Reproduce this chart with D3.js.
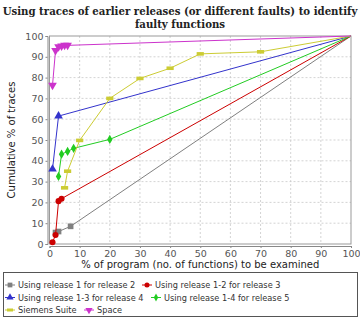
<!DOCTYPE html>
<html>
<head>
<meta charset="utf-8">
<script src="https://cdn.jsdelivr.net/npm/d3@7"></script>
<style>
  body { margin: 0; background: #fff; }
  svg { display: block; font-family: "DejaVu Sans", sans-serif; }
</style>
</head>
<body>
<div id="chart-area"></div>
<script>
// data: [% of program, cumulative % of traces]
const seriesNames = [
	'Using release 1 for release 2',
	'Using release 1-2 for release 3',
	'Using release 1-3 for release 4',
	'Using release 1-4 for release 5',
	'Siemens Suite',
	'Space'
]
const rel12 = [[2, 5.5], [3, 6], [7, 8.5], [100, 100]]
const rel123 = [[1, 0.8], [2, 4.3], [3, 20.6], [4, 21.8], [100, 100]]
const rel1234 = [[1, 36], [3, 61.5], [100, 100]]
const rel12345 = [[3, 32.5], [4, 43.2], [6, 44.5], [8, 46], [20, 50.3], [100, 100]]
const siemens = [[5, 27], [6, 35], [10, 49.8], [20, 70], [30, 79.6], [40, 84.5], [50, 91.4], [70, 92.4], [100, 100]]
const space = [[1, 76.3], [2, 93], [3, 94.8], [4, 95.2], [5, 95.5], [6, 95.5], [100, 100]]
const xTicks = [0, 10, 20, 30, 40, 50, 60, 70, 80, 90, 100]
const yTicks = [0, 10, 20, 30, 40, 50, 60, 70, 80, 90, 100]

const allSeries = [rel12, rel123, rel1234, rel12345, siemens, space]
const colors = ['#808080', '#cc0000', '#3333cc', '#22cc22', '#cccc33', '#cc33cc']
const symbols = [d3.symbolSquare, d3.symbolCircle, d3.symbolTriangle, d3.symbolDiamond, 'rect', 'down']

const W = 360, H = 327
const PLOT = { LEFT: 49.5, RIGHT: 351, TOP: 36, BOTTOM: 244 }

const svg = d3.select('#chart-area').append('svg')
	.attr('width', W)
	.attr('height', H)

// title
const title = svg.append('g')
	.attr('font-family', '"DejaVu Serif Condensed", "DejaVu Serif", serif')
	.attr('font-stretch', 'condensed')
	.attr('font-weight', 'bold')
	.attr('font-size', '11.3px')
	.attr('fill', '#222')
	.attr('text-anchor', 'middle')
title.append('text')
	.attr('x', 180).attr('y', 15)
	.text('Using traces of earlier releases (or different faults) to identify')
title.append('text')
	.attr('x', 180).attr('y', 28)
	.text('faulty functions')

const x = d3.scaleLinear()
	.domain([0, 100])
	.range([PLOT.LEFT, PLOT.RIGHT])

const y = d3.scaleLinear()
	.domain([0, 100])
	.range([PLOT.BOTTOM, PLOT.TOP])

// grid
const grid = svg.append('g')
	.attr('stroke', '#c8c8c8')
	.attr('stroke-width', 0.8)
	.attr('stroke-dasharray', '2,2')
grid.selectAll('.vx').data(xTicks.slice(1, -1)).enter().append('line')
	.attr('x1', d => x(d)).attr('x2', d => x(d))
	.attr('y1', PLOT.TOP).attr('y2', PLOT.BOTTOM)
grid.selectAll('.hy').data(yTicks.slice(1, -1)).enter().append('line')
	.attr('y1', d => y(d)).attr('y2', d => y(d))
	.attr('x1', PLOT.LEFT).attr('x2', PLOT.RIGHT)

// plot outline
svg.append('rect')
	.attr('x', PLOT.LEFT).attr('y', PLOT.TOP)
	.attr('width', PLOT.RIGHT - PLOT.LEFT)
	.attr('height', PLOT.BOTTOM - PLOT.TOP)
	.attr('fill', 'none')
	.attr('stroke', '#999')
	.attr('stroke-width', 1)

// axes
const xAxisGroup = svg.append('g')
	.attr('transform', `translate(0, ${PLOT.BOTTOM + 2})`)
	.call(d3.axisBottom(x).tickValues(xTicks).tickSize(2).tickPadding(2))
const yAxisGroup = svg.append('g')
	.attr('transform', `translate(${PLOT.LEFT - 2}, 0)`)
	.call(d3.axisLeft(y).tickValues(yTicks).tickSize(2).tickPadding(2))
svg.selectAll('.domain').attr('stroke', '#888')
svg.selectAll('.tick line').attr('stroke', '#888')
svg.selectAll('.tick text')
	.attr('fill', '#555')
	.attr('font-size', '9.5px')
	.attr('font-family', '"DejaVu Sans", sans-serif')

// axis labels
svg.append('text')
	.attr('x', (PLOT.LEFT + PLOT.RIGHT) / 2)
	.attr('y', 268)
	.attr('text-anchor', 'middle')
	.attr('font-size', '10px')
	.attr('fill', '#222')
	.text('% of program (no. of functions) to be examined')
svg.append('text')
	.attr('transform', 'rotate(-90)')
	.attr('x', -(PLOT.TOP + PLOT.BOTTOM) / 2)
	.attr('y', 15)
	.attr('text-anchor', 'middle')
	.attr('font-size', '10px')
	.attr('fill', '#222')
	.text('Cumulative % of traces')

// marker drawing
function marker(sel, i, size) {
	const s = symbols[i]
	if (s === 'rect') {
		sel.append('rect')
			.attr('x', -size * 0.6).attr('y', -size * 0.3)
			.attr('width', size * 1.2).attr('height', size * 0.6)
			.attr('fill', colors[i])
	} else if (s === 'down') {
		sel.append('path')
			.attr('d', d3.symbol().type(d3.symbolTriangle).size(size * size * 0.9)())
			.attr('transform', 'rotate(180)')
			.attr('fill', colors[i])
	} else {
		sel.append('path')
			.attr('d', d3.symbol().type(s).size(size * size * (s === d3.symbolCircle ? 0.8 : s === d3.symbolDiamond ? 0.7 : 0.9))())
			.attr('fill', colors[i])
	}
}

const line = d3.line()
	.x(d => x(d[0]))
	.y(d => y(d[1]))

const plotG = svg.append('g')
allSeries.forEach((data, i) => {
	plotG.append('path')
		.datum(data)
		.attr('fill', 'none')
		.attr('stroke', colors[i])
		.attr('stroke-width', 1)
		.attr('d', line)
	data.slice(0, -1).forEach(d => {
		const m = plotG.append('g')
			.attr('transform', `translate(${x(d[0])}, ${y(d[1])})`)
		marker(m, i, 6)
	})
})

// legend
const legend = svg.append('g')
legend.append('rect')
	.attr('x', 3.5).attr('y', 272.5)
	.attr('width', 354).attr('height', 44)
	.attr('fill', '#fff')
	.attr('stroke', '#555')
	.attr('stroke-width', 1)

const legendPos = [[10, 285], [147, 285], [10, 297.5], [156, 297.5], [10, 310], [89, 310]]
seriesNames.forEach((name, i) => {
	const g = legend.append('g')
		.attr('transform', `translate(${legendPos[i][0]}, ${legendPos[i][1]})`)
	g.append('line')
		.attr('x1', -5).attr('x2', 5)
		.attr('stroke', colors[i])
		.attr('stroke-width', 1)
	marker(g, i, 5)
	g.append('text')
		.attr('x', 8)
		.attr('y', 3)
		.attr('font-size', '8.2px')
		.attr('fill', '#333')
		.text(name)
})
</script>
</body>
</html>
